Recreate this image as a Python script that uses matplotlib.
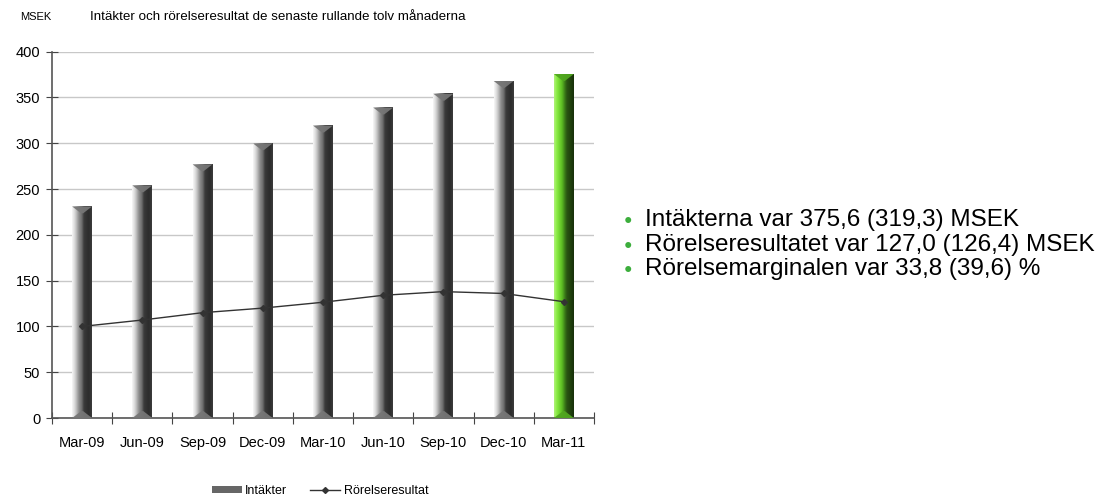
import numpy as np
import matplotlib
matplotlib.use("Agg")
import matplotlib.pyplot as plt
from matplotlib.colors import LinearSegmentedColormap
from matplotlib.lines import Line2D
from matplotlib.patches import Patch

plt.rcParams['font.family'] = ['Liberation Sans', 'DejaVu Sans']

kvartal = ['Mar-09', 'Jun-09', 'Sep-09', 'Dec-09', 'Mar-10', 'Jun-10', 'Sep-10', 'Dec-10', 'Mar-11']
intakter = [231, 254, 277, 300, 319.3, 339, 354, 368, 375.6]
rorelseresultat = [100, 107, 115, 120, 126.4, 134, 138, 136, 127.0]
punkter = ['Intäkterna var 375,6 (319,3) MSEK',
           'Rörelseresultatet var 127,0 (126,4) MSEK',
           'Rörelsemarginalen var 33,8 (39,6) %']

grey_cm = LinearSegmentedColormap.from_list('cyl_grey', [
    (0.0, '#f8f8f8'), (0.15, '#d4d4d4'), (0.35, '#8c8c8c'), (0.5, '#6c6c6c'),
    (0.6, '#3a3a3a'), (0.85, '#2c2c2c'), (1.0, '#3c3c3c')])
green_cm = LinearSegmentedColormap.from_list('cyl_green', [
    (0.0, '#b0f27a'), (0.15, '#86ea40'), (0.4, '#5cbc22'), (0.55, '#3a7a18'),
    (0.65, '#2a5412'), (1.0, '#17300a')])

fig = plt.figure(figsize=(11.02, 5.0), dpi=100)
ax = fig.add_axes([0.0472, 0.164, 0.4918, 0.7326])

x = np.arange(len(kvartal))
w = 0.33
grad = np.linspace(0, 1, 64).reshape(1, -1)
bevel = 7.5  # bevel depth in data units

for i, h in enumerate(intakter):
    cm = green_cm if i == len(intakter) - 1 else grey_cm
    x0, x1 = x[i] - w / 2, x[i] + w / 2
    ax.imshow(grad, cmap=cm, aspect='auto', extent=[x0, x1, 0, h],
              interpolation='bicubic', zorder=2)
    mid = cm(0.45)
    ax.fill([x0, x1, x[i] + w * 0.05, x[i] - w * 0.05], [h, h, h - bevel, h - bevel],
            color=mid, lw=0, zorder=3, alpha=0.95)
    ax.fill([x0, x1, x[i] + w * 0.05, x[i] - w * 0.05], [0, 0, bevel, bevel],
            color=mid, lw=0, zorder=3, alpha=0.95)

ax.plot(x, rorelseresultat, color='#333333', lw=1.0, marker='D', ms=3,
        markerfacecolor='#333333', zorder=5)

ax.set_xlim(-0.5, len(kvartal) - 0.5)
ax.set_ylim(0, 400)
ax.set_yticks(range(0, 401, 50))
ax.yaxis.grid(True, color='#c8c8c8', lw=1)
ax.set_axisbelow(True)

ax.set_xticks(np.arange(-0.5, len(kvartal)), labels=[''] * (len(kvartal) + 1))
ax.set_xticks(x, labels=kvartal, minor=True)
ax.tick_params(axis='x', which='minor', length=0, pad=13, labelsize=10.5)
ax.tick_params(axis='x', which='major', direction='inout', length=9, color='#444444')
ax.tick_params(axis='y', direction='inout', length=9, color='#444444', labelsize=10.5, pad=4)

for s in ['top', 'right']:
    ax.spines[s].set_visible(False)
for s in ['left', 'bottom']:
    ax.spines[s].set_color('#555555')
    ax.spines[s].set_linewidth(1.2)

fig.text(20 / 1102, 1 - 17 / 500, 'MSEK', fontsize=8, va='center')
fig.text(90 / 1102, 1 - 17 / 500,
         'Intäkter och rörelseresultat de senaste rullande tolv månaderna',
         fontsize=9.6, va='center')

handles = [Patch(facecolor='#666666', edgecolor='none'),
           Line2D([], [], color='#333333', lw=1, marker='D', ms=3)]
fig.legend(handles, ['Intäkter', 'Rörelseresultat'], loc='center',
           bbox_to_anchor=(320 / 1102, 1 - 491 / 500), ncol=2, frameon=False,
           fontsize=9, handlelength=2.4, handleheight=0.4, columnspacing=1.8,
           handletextpad=0.3)

for j, t in enumerate(punkter):
    yy = 1 - (220 + j * 24.5) / 500
    fig.text(628 / 1102, yy, '●', color='#3cae3c', fontsize=10, va='center', ha='center')
    fig.text(645 / 1102, yy, t, fontsize=17.5, va='center')

fig.savefig('out.png', dpi=100)
